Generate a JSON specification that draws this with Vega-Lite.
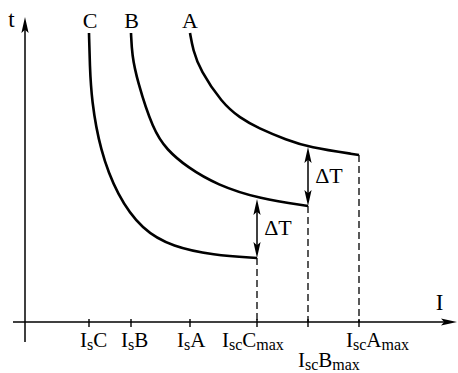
{
  "$schema": "https://vega.github.io/schema/vega-lite/v6.json",
  "width": 458,
  "height": 373,
  "padding": 0,
  "autosize": {"type": "fit", "contains": "padding"},
  "background": "white",
  "config": {"view": {"stroke": null}},
  "datasets": {
    "curves": [
      {"curve": "C", "I": 64, "t": 289}, {"curve": "C", "I": 64.8, "t": 257}, {"curve": "C", "I": 66.5, "t": 222},
      {"curve": "C", "I": 75, "t": 172}, {"curve": "C", "I": 92, "t": 127}, {"curve": "C", "I": 117, "t": 92},
      {"curve": "C", "I": 148, "t": 75}, {"curve": "C", "I": 188, "t": 67}, {"curve": "C", "I": 232, "t": 64},
      {"curve": "B", "I": 106, "t": 289}, {"curve": "B", "I": 107, "t": 267}, {"curve": "B", "I": 112, "t": 242},
      {"curve": "B", "I": 128, "t": 192}, {"curve": "B", "I": 142, "t": 172}, {"curve": "B", "I": 162, "t": 155},
      {"curve": "B", "I": 192, "t": 137}, {"curve": "B", "I": 235, "t": 123}, {"curve": "B", "I": 283, "t": 116},
      {"curve": "A", "I": 165, "t": 289}, {"curve": "A", "I": 168, "t": 272}, {"curve": "A", "I": 175, "t": 252},
      {"curve": "A", "I": 197, "t": 219}, {"curve": "A", "I": 215, "t": 204}, {"curve": "A", "I": 233, "t": 194},
      {"curve": "A", "I": 262, "t": 182}, {"curve": "A", "I": 283, "t": 175}, {"curve": "A", "I": 334, "t": 167}
    ],
    "maxCurrents": [
      {"name": "IscCmax", "I": 232, "t": 64},
      {"name": "IscBmax", "I": 283, "t": 116},
      {"name": "IscAmax", "I": 334, "t": 167}
    ],
    "ticks": [
      {"I": 64}, {"I": 106}, {"I": 165}, {"I": 232}, {"I": 283}, {"I": 334}
    ],
    "axes": [
      {"axis": "I", "I": -12, "I2": 427, "t": 0, "t2": 0},
      {"axis": "t", "I": 0, "I2": 0, "t": -20, "t2": 300}
    ],
    "deltaShafts": [
      {"I": 283, "t": 170, "t2": 121},
      {"I": 232, "t": 118, "t2": 69}
    ],
    "heads": [
      {"I": 0, "t": 305, "dir": 0},
      {"I": 432, "t": 0, "dir": 90},
      {"I": 283, "t": 175, "dir": 0},
      {"I": 283, "t": 116, "dir": 180},
      {"I": 232, "t": 123, "dir": 0},
      {"I": 232, "t": 64, "dir": 180}
    ],
    "tickText": [
      {"part": "main", "I": 55, "t": -25, "text": "I"}, {"part": "sub", "I": 62, "t": -25, "text": "s"}, {"part": "main", "I": 68.2, "t": -25, "text": "C"},
      {"part": "main", "I": 96, "t": -25, "text": "I"}, {"part": "sub", "I": 103, "t": -25, "text": "s"}, {"part": "main", "I": 109.2, "t": -25, "text": "B"},
      {"part": "main", "I": 152, "t": -25, "text": "I"}, {"part": "sub", "I": 159, "t": -25, "text": "s"}, {"part": "main", "I": 165.2, "t": -25, "text": "A"},
      {"part": "main", "I": 197, "t": -25, "text": "I"}, {"part": "sub", "I": 204, "t": -25, "text": "sc"}, {"part": "main", "I": 217.3, "t": -25, "text": "C"}, {"part": "sub", "I": 231.3, "t": -25, "text": "max"},
      {"part": "main", "I": 273, "t": -45, "text": "I"}, {"part": "sub", "I": 280, "t": -45, "text": "sc"}, {"part": "main", "I": 293.3, "t": -45, "text": "B"}, {"part": "sub", "I": 307.3, "t": -45, "text": "max"},
      {"part": "main", "I": 321, "t": -25, "text": "I"}, {"part": "sub", "I": 328, "t": -25, "text": "sc"}, {"part": "main", "I": 341.3, "t": -25, "text": "A"}, {"part": "sub", "I": 356.5, "t": -25, "text": "max"}
    ],
    "names": [
      {"I": 65, "t": 294, "text": "C"},
      {"I": 106.5, "t": 294, "text": "B"},
      {"I": 165, "t": 294, "text": "A"},
      {"I": 304, "t": 139, "text": "ΔT"},
      {"I": 253, "t": 87, "text": "ΔT"}
    ],
    "axisNames": [
      {"I": -13.5, "t": 295, "text": "t"},
      {"I": 414.5, "t": 12, "text": "I"}
    ]
  },
  "layer": [
    {
      "data": {"name": "axes"},
      "mark": {"type": "rule", "color": "black", "strokeWidth": 1.5},
      "encoding": {
        "x": {"field": "I", "type": "quantitative", "scale": {"domain": [-25, 433], "nice": false, "zero": false}, "axis": null},
        "x2": {"field": "I2"},
        "y": {"field": "t", "type": "quantitative", "scale": {"domain": [-51, 322], "nice": false, "zero": false}, "axis": null},
        "y2": {"field": "t2"}
      }
    },
    {
      "data": {"name": "ticks"},
      "mark": {"type": "rule", "color": "black", "strokeWidth": 1.4},
      "encoding": {
        "x": {"field": "I", "type": "quantitative"},
        "y": {"datum": 3, "type": "quantitative"},
        "y2": {"datum": -5}
      }
    },
    {
      "data": {"name": "maxCurrents"},
      "mark": {"type": "rule", "color": "black", "strokeWidth": 1.3, "strokeDash": [7, 4]},
      "encoding": {
        "x": {"field": "I", "type": "quantitative"},
        "y": {"field": "t", "type": "quantitative"},
        "y2": {"datum": 0}
      }
    },
    {
      "data": {"name": "curves"},
      "mark": {"type": "line", "color": "black", "strokeWidth": 2.6, "interpolate": "basis", "strokeCap": "butt"},
      "encoding": {
        "x": {"field": "I", "type": "quantitative"},
        "y": {"field": "t", "type": "quantitative"},
        "detail": {"field": "curve"}
      }
    },
    {
      "data": {"name": "deltaShafts"},
      "mark": {"type": "rule", "color": "black", "strokeWidth": 1.5},
      "encoding": {
        "x": {"field": "I", "type": "quantitative"},
        "y": {"field": "t", "type": "quantitative"},
        "y2": {"field": "t2"}
      }
    },
    {
      "data": {"name": "heads"},
      "mark": {"type": "point", "shape": "M0,0L0.45,2L0,1.6L-0.45,2Z", "filled": true, "color": "black", "opacity": 1, "size": 256, "strokeWidth": 0},
      "encoding": {
        "x": {"field": "I", "type": "quantitative"},
        "y": {"field": "t", "type": "quantitative"},
        "angle": {"field": "dir", "type": "quantitative", "scale": null}
      }
    },
    {
      "data": {"name": "tickText"},
      "transform": [{"filter": "datum.part === 'main'"}],
      "mark": {"type": "text", "font": "Liberation Serif", "color": "black", "fontSize": 21, "align": "left", "baseline": "alphabetic"},
      "encoding": {
        "x": {"field": "I", "type": "quantitative"},
        "y": {"field": "t", "type": "quantitative"},
        "text": {"field": "text"}
      }
    },
    {
      "data": {"name": "tickText"},
      "transform": [{"filter": "datum.part === 'sub'"}],
      "mark": {"type": "text", "font": "Liberation Serif", "color": "black", "fontSize": 16, "align": "left", "baseline": "alphabetic", "dy": 3},
      "encoding": {
        "x": {"field": "I", "type": "quantitative"},
        "y": {"field": "t", "type": "quantitative"},
        "text": {"field": "text"}
      }
    },
    {
      "data": {"name": "names"},
      "mark": {"type": "text", "font": "Liberation Serif", "color": "black", "fontSize": 22, "align": "center", "baseline": "alphabetic"},
      "encoding": {
        "x": {"field": "I", "type": "quantitative"},
        "y": {"field": "t", "type": "quantitative"},
        "text": {"field": "text"}
      }
    },
    {
      "data": {"name": "axisNames"},
      "mark": {"type": "text", "font": "Liberation Serif", "color": "black", "fontSize": 23, "align": "center", "baseline": "alphabetic"},
      "encoding": {
        "x": {"field": "I", "type": "quantitative"},
        "y": {"field": "t", "type": "quantitative"},
        "text": {"field": "text"}
      }
    }
  ]
}
